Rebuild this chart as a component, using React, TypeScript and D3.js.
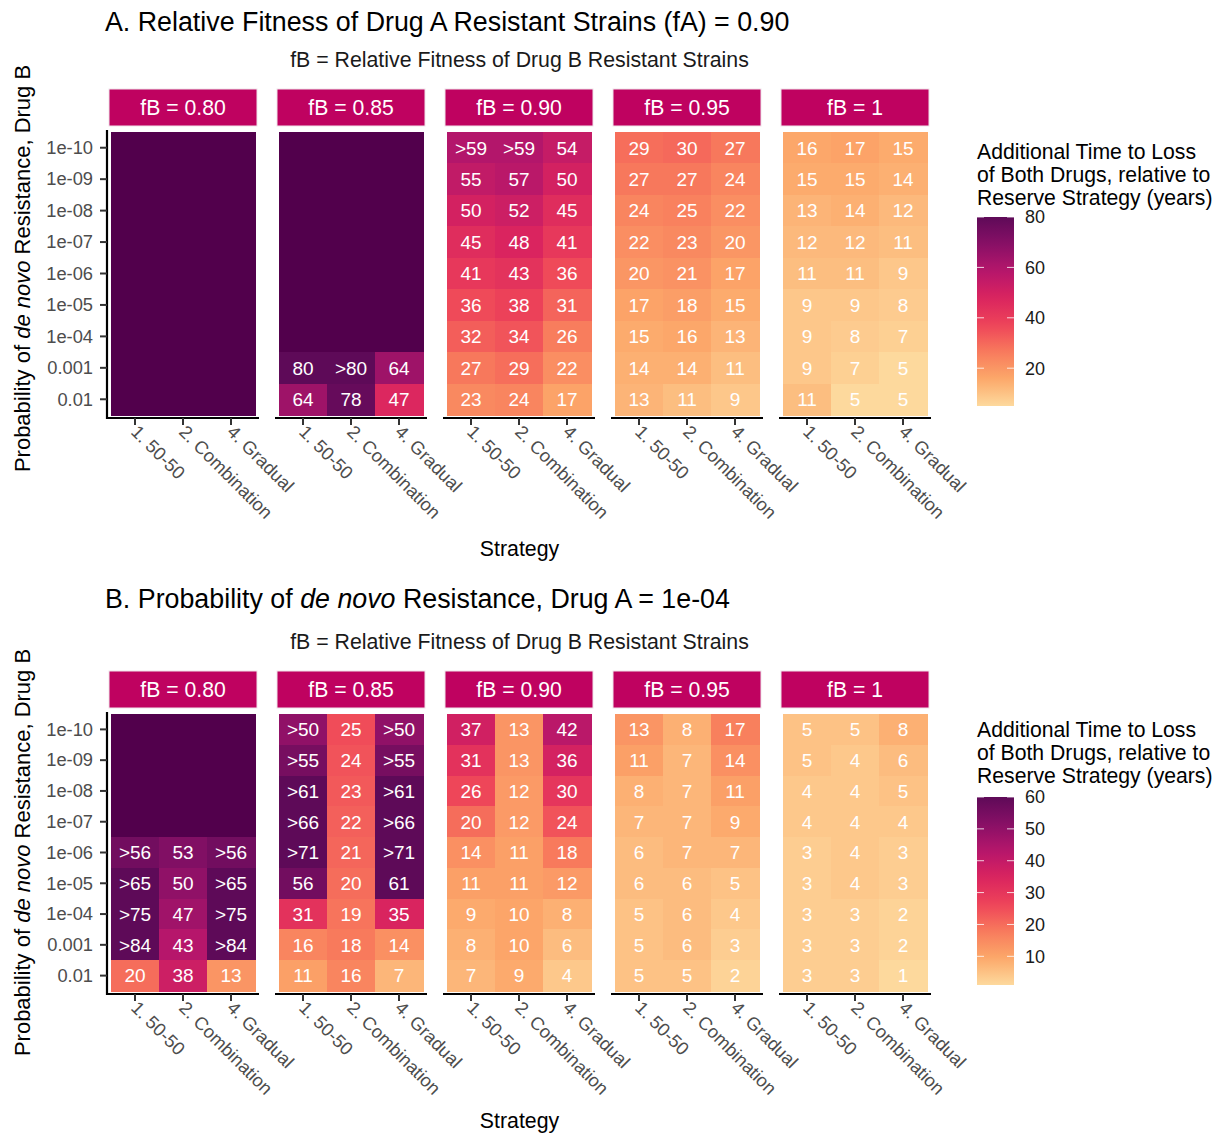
import React from "react";
import * as d3 from "d3";

// ---------- categories ----------
const strategies = ["1. 50-50", "2. Combination", "4. Gradual"];
const probLevels = ["1e-10", "1e-09", "1e-08", "1e-07", "1e-06", "1e-05", "1e-04", "0.001", "0.01"];
const fBLevels = ["fB = 0.80", "fB = 0.85", "fB = 0.90", "fB = 0.95", "fB = 1"];

// ---------- panel A (fA = 0.90): rows = probLevels, cols = strategies, "" = no value ----------
const A_fB080 = [
  ["", "", ""], ["", "", ""], ["", "", ""], ["", "", ""], ["", "", ""],
  ["", "", ""], ["", "", ""], ["", "", ""], ["", "", ""],
];
const A_fB085 = [
  ["", "", ""], ["", "", ""], ["", "", ""], ["", "", ""], ["", "", ""],
  ["", "", ""], ["", "", ""], ["80", ">80", "64"], ["64", "78", "47"],
];
const A_fB090 = [
  [">59", ">59", "54"], ["55", "57", "50"], ["50", "52", "45"], ["45", "48", "41"], ["41", "43", "36"],
  ["36", "38", "31"], ["32", "34", "26"], ["27", "29", "22"], ["23", "24", "17"],
];
const A_fB095 = [
  ["29", "30", "27"], ["27", "27", "24"], ["24", "25", "22"], ["22", "23", "20"], ["20", "21", "17"],
  ["17", "18", "15"], ["15", "16", "13"], ["14", "14", "11"], ["13", "11", "9"],
];
const A_fB100 = [
  ["16", "17", "15"], ["15", "15", "14"], ["13", "14", "12"], ["12", "12", "11"], ["11", "11", "9"],
  ["9", "9", "8"], ["9", "8", "7"], ["9", "7", "5"], ["11", "5", "5"],
];

// ---------- panel B (pA = 1e-04) ----------
const B_fB080 = [
  ["", "", ""], ["", "", ""], ["", "", ""], ["", "", ""], [">56", "53", ">56"],
  [">65", "50", ">65"], [">75", "47", ">75"], [">84", "43", ">84"], ["20", "38", "13"],
];
const B_fB085 = [
  [">50", "25", ">50"], [">55", "24", ">55"], [">61", "23", ">61"], [">66", "22", ">66"], [">71", "21", ">71"],
  ["56", "20", "61"], ["31", "19", "35"], ["16", "18", "14"], ["11", "16", "7"],
];
const B_fB090 = [
  ["37", "13", "42"], ["31", "13", "36"], ["26", "12", "30"], ["20", "12", "24"], ["14", "11", "18"],
  ["11", "11", "12"], ["9", "10", "8"], ["8", "10", "6"], ["7", "9", "4"],
];
const B_fB095 = [
  ["13", "8", "17"], ["11", "7", "14"], ["8", "7", "11"], ["7", "7", "9"], ["6", "7", "7"],
  ["6", "6", "5"], ["5", "6", "4"], ["5", "6", "3"], ["5", "5", "2"],
];
const B_fB100 = [
  ["5", "5", "8"], ["5", "4", "6"], ["4", "4", "5"], ["4", "4", "4"], ["3", "4", "3"],
  ["3", "4", "3"], ["3", "3", "2"], ["3", "3", "2"], ["3", "3", "1"],
];

const legendDomainA = [5, 80];
const legendTicksA = [20, 40, 60, 80];
const legendDomainB = [1, 60];
const legendTicksB = [10, 20, 30, 40, 50, 60];

// ---------- styling ----------
const FONT = "'Liberation Sans', Arial, Helvetica, sans-serif";
const rampColors = ["#fdd99d", "#fca86a", "#f87b5c", "#ee4459", "#da245f", "#b5166b", "#881066", "#5e0a58"];
const NA_COLOR = "#52004c";
const STRIP_COLOR = "#bf0260";
const ramp = d3.piecewise(d3.interpolateRgb, rampColors);

const panelX0 = 109;
const panelStride = 168;
const panelW = 148;

type PanelProps = {
  facets: string[][][];
  domain: number[];
  ticks: number[];
  title: React.ReactNode;
  titleY: number;
  subtitleY: number;
  stripTop: number;
  stripBottom: number;
  tileTop: number;
  tileBottom: number;
  axisY: number;
  xTitleY: number;
  yTitleShift: number;
  legTitleY: number;
  barTop: number;
  barBottom: number;
  gid: string;
};

function Panel(p: PanelProps) {
  const color = d3.scaleSequential(ramp).domain(p.domain as [number, number]).clamp(true);
  const y = d3.scaleBand().domain(probLevels).range([p.tileTop, p.tileBottom]).padding(0);
  const legY = d3.scaleLinear().domain(p.domain).range([p.barBottom, p.barTop]);
  const barX = 977;
  const barW = 37;
  const gStops = d3.range(0, 1.0001, 0.05);
  const yTitleCenter = (p.tileTop + p.tileBottom) / 2 + p.yTitleShift;
  return (
    <g>
      <defs>
        <linearGradient id={p.gid} x1="0" y1="1" x2="0" y2="0">
          {gStops.map((t) => (
            <stop key={t} offset={t} stopColor={ramp(t)} />
          ))}
        </linearGradient>
      </defs>
      <text x={105} y={p.titleY} fontSize={26.8} fill="#000">{p.title}</text>
      <text x={519.5} y={p.subtitleY} fontSize={21.3} textAnchor="middle" fill="#1a1a1a">
        fB = Relative Fitness of Drug B Resistant Strains
      </text>
      {/* y axis title */}
      <text
        transform={`translate(30,${yTitleCenter}) rotate(-90)`}
        fontSize={22}
        textAnchor="middle"
        fill="#000"
      >
        Probability of <tspan fontStyle="italic">de novo</tspan> Resistance, Drug B
      </text>
      {/* y axis */}
      <line x1={107} x2={107} y1={p.tileTop - 2} y2={p.axisY + 1} stroke="#000" strokeWidth={2.2} />
      {probLevels.map((lv) => {
        const yy = (y(lv) as number) + y.bandwidth() / 2;
        return (
          <g key={lv}>
            <line x1={100} x2={107} y1={yy} y2={yy} stroke="#333" strokeWidth={2} />
            <text x={93} y={yy + 6.3} fontSize={18.3} textAnchor="end" fill="#4d4d4d">{lv}</text>
          </g>
        );
      })}
      {p.facets.map((rows, fi) => {
        const px = panelX0 + fi * panelStride;
        const x = d3.scaleBand().domain(strategies).range([px + 2, px + panelW - 2]).padding(0);
        return (
          <g key={fi}>
            <rect x={px} y={p.stripTop} width={panelW} height={p.stripBottom - p.stripTop} fill={STRIP_COLOR} stroke="#efe3ea" strokeWidth={1} />
            <text x={px + panelW / 2} y={(p.stripTop + p.stripBottom) / 2 + 7.6} fontSize={21.2} textAnchor="middle" fill="#fff">
              {fBLevels[fi]}
            </text>
            {rows.map((row, ri) =>
              row.map((lab, ci) => {
                const xx = x(strategies[ci]) as number;
                const yy = y(probLevels[ri]) as number;
                const v = lab === "" ? null : +lab.replace(">", "");
                return (
                  <rect
                    key={`r${ri}-${ci}`}
                    x={xx}
                    y={yy}
                    width={x.bandwidth() + 0.6}
                    height={y.bandwidth() + 0.6}
                    shapeRendering="crispEdges"
                    fill={v === null ? NA_COLOR : color(v)}
                  />
                );
              })
            )}
            {rows.map((row, ri) =>
              row.map((lab, ci) => {
                if (lab === "") return null;
                const xx = x(strategies[ci]) as number;
                const yy = y(probLevels[ri]) as number;
                return (
                  <text key={`t${ri}-${ci}`} x={xx + x.bandwidth() / 2} y={yy + y.bandwidth() / 2 + 6.8} fontSize={19} textAnchor="middle" fill="#fff">
                    {lab}
                  </text>
                );
              })
            )}
            {/* x axis */}
            <line x1={px - 2} x2={px + panelW + 2} y1={p.axisY} y2={p.axisY} stroke="#000" strokeWidth={2.2} />
            {strategies.map((s) => {
              const xx = (x(s) as number) + x.bandwidth() / 2;
              return (
                <g key={s}>
                  <line x1={xx} x2={xx} y1={p.axisY} y2={p.axisY + 7} stroke="#333" strokeWidth={2} />
                  <text transform={`translate(${xx - 5},${p.axisY + 15}) rotate(45)`} fontSize={18.3} fill="#4d4d4d">
                    {s}
                  </text>
                </g>
              );
            })}
          </g>
        );
      })}
      <text x={519.5} y={p.xTitleY} fontSize={21.3} textAnchor="middle" fill="#000">Strategy</text>
      {/* legend */}
      {["Additional Time to Loss", "of Both Drugs, relative to", "Reserve Strategy (years)"].map((l, i) => (
        <text key={l} x={977} y={p.legTitleY + i * 23} fontSize={21.2} fill="#000">{l}</text>
      ))}
      <rect x={barX} y={p.barTop} width={barW} height={p.barBottom - p.barTop} fill={`url(#${p.gid})`} />
      {p.ticks.map((t) => {
        const yy = legY(t);
        return (
          <g key={t}>
            <line x1={barX} x2={barX + 7} y1={yy} y2={yy} stroke="#fff" strokeWidth={1} opacity={0.8} />
            <line x1={barX + barW - 7} x2={barX + barW} y1={yy} y2={yy} stroke="#fff" strokeWidth={1} opacity={0.8} />
            <text x={1025} y={yy + 6.3} fontSize={18} fill="#1a1a1a">{t}</text>
          </g>
        );
      })}
    </g>
  );
}

export default function App() {
  return (
    <svg width={1217} height={1134} style={{ display: "block", position: "absolute", left: 0, top: 0 }} fontFamily={FONT}>
      <rect x={0} y={0} width={1217} height={1134} fill="#fff" />
      <Panel
        facets={[A_fB080, A_fB085, A_fB090, A_fB095, A_fB100]}
        domain={legendDomainA}
        ticks={legendTicksA}
        title={<>A. Relative Fitness of Drug A Resistant Strains (fA) = 0.90</>}
        titleY={31}
        subtitleY={67}
        stripTop={89}
        stripBottom={126}
        tileTop={132}
        tileBottom={415}
        axisY={418}
        xTitleY={556}
        yTitleShift={-5}
        legTitleY={159}
        barTop={217}
        barBottom={406}
        gid="gradA"
      />
      <Panel
        facets={[B_fB080, B_fB085, B_fB090, B_fB095, B_fB100]}
        domain={legendDomainB}
        ticks={legendTicksB}
        title={<>B. Probability of <tspan fontStyle="italic">de novo</tspan> Resistance, Drug A = 1e-04</>}
        titleY={608}
        subtitleY={649}
        stripTop={671}
        stripBottom={708}
        tileTop={714}
        tileBottom={991}
        axisY={994}
        xTitleY={1128}
        yTitleShift={0}
        legTitleY={737}
        barTop={797}
        barBottom={985}
        gid="gradB"
      />
    </svg>
  );
}
